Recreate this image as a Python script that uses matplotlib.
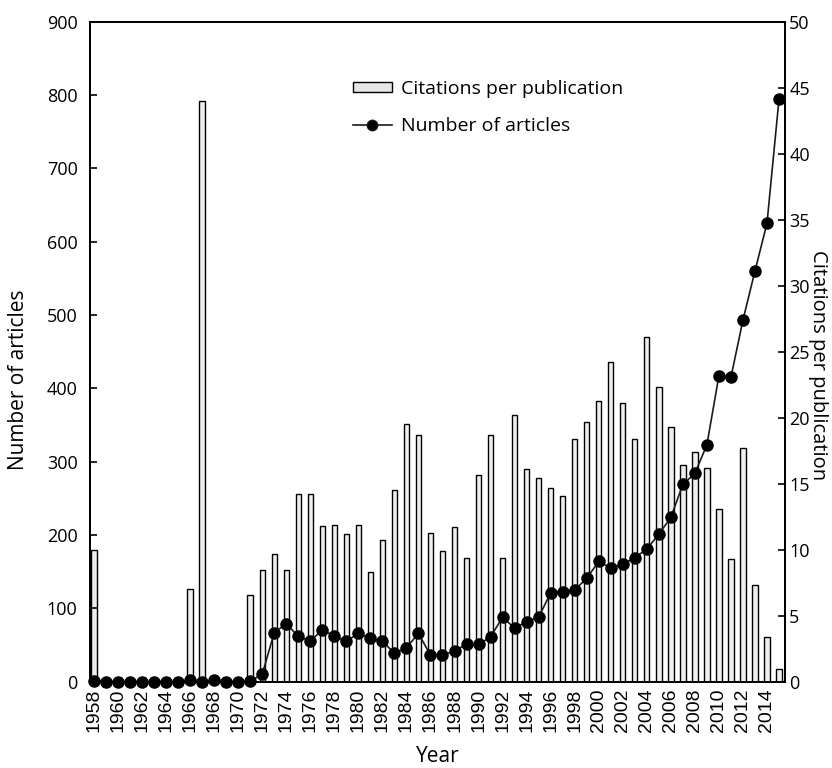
import numpy as np
import matplotlib.pyplot as plt
from matplotlib.lines import Line2D
from matplotlib.patches import Patch

# years shown on the x axis (one bar and one point per year)
years = np.arange(1958, 2016)

# citations per publication (bars, right axis)
citations = [10.0, 0, 0, 0, 0, 0, 0, 0, 7.0, 44.0,
             0, 0, 0, 6.6, 8.45, 9.7, 8.45, 14.2, 14.2, 11.8,
             11.9, 11.2, 11.9, 8.3, 10.7, 14.5, 19.5, 18.7, 11.3, 9.9,
             11.75, 9.35, 15.65, 18.7, 9.35, 20.2, 16.1, 15.4, 14.7, 14.05,
             18.4, 19.7, 21.3, 24.2, 21.1, 18.4, 26.1, 22.3, 19.3, 16.4,
             17.4, 16.2, 13.1, 9.3, 17.7, 7.3, 3.4, 0.94]

# number of articles (line, left axis)
articles = [1, 0, 0, 0, 0, 0, 0, 0, 2, 0,
            2, 0, 0, 1, 10, 67, 79, 62, 55, 71,
            62, 55, 66, 59, 55, 39, 46, 66, 36, 36,
            42, 51, 51, 61, 88, 73, 82, 88, 121, 123,
            125, 141, 164, 155, 160, 169, 181, 201, 224, 269,
            284, 323, 417, 415, 493, 560, 625, 794]

xtick_years = np.arange(1958, 2015, 2)

lab_font = 'Open Sans'
tick_font = 'Liberation Sans'

fig = plt.figure(figsize=(8.32, 7.68), dpi=100)
ax1 = fig.add_axes([90/832, 1 - 681.7/768, 695/832, 660/768])
ax2 = ax1.twinx()

# bars on the right axis
ax2.bar(years, citations, width=0.45, color='#eeeeee', edgecolor='black',
        linewidth=1.0)
ax2.set_ylim(0, 50)
ax2.set_yticks(np.arange(0, 51, 5))

# line on the left axis, drawn above the bars
ax1.set_zorder(ax2.get_zorder() + 1)
ax1.patch.set_visible(False)
ax1.plot(years, articles, color='#1a1a1a', linewidth=1.2, marker='o',
         markersize=8, markerfacecolor='black', markeredgecolor='black',
         clip_on=False)
ax1.set_ylim(0, 900)
ax1.set_yticks(np.arange(0, 901, 100))
ax1.set_xlim(1957.67, 2015.5)
ax1.set_xticks(xtick_years)
ax1.set_xticklabels([str(y) for y in xtick_years], rotation=90,
                    fontsize=14, family=tick_font)

ax1.tick_params(axis='x', length=0, pad=5)
ax1.tick_params(axis='y', direction='in', length=5, width=1.2, pad=9,
                labelsize=13)
ax2.tick_params(axis='y', direction='in', length=5, width=1.2, pad=3,
                labelsize=13)
for lab in ax1.get_yticklabels() + ax2.get_yticklabels():
    lab.set_family(lab_font)

for ax in (ax1, ax2):
    for s in ax.spines.values():
        s.set_linewidth(1.3)

ax1.set_xlabel('Year', fontsize=15, family=lab_font)
ax1.xaxis.set_label_coords(0.5, -0.097)
ax1.set_ylabel('Number of articles', fontsize=15, family=lab_font)
ax1.yaxis.set_label_coords(-0.088, 0.457)
ax2.set_ylabel('Citations per publication', fontsize=14.5, family=lab_font,
               rotation=270, va='center')
ax2.yaxis.set_label_coords(1.048, 0.48)

handles = [Patch(facecolor='#e6e6e6', edgecolor='black', linewidth=1.0),
           Line2D([], [], color='#1a1a1a', linewidth=1.2, marker='o',
                  markersize=7.5, markerfacecolor='black')]
ax1.legend(handles, ['Citations per publication', 'Number of articles'],
           loc='upper left', bbox_to_anchor=(0.378, 0.912), frameon=False,
           borderpad=0, borderaxespad=0, handlelength=2.0, handleheight=0.4,
           handletextpad=0.5, labelspacing=1.0, numpoints=1,
           prop={'family': lab_font, 'size': 14})

fig.savefig('out.png', dpi=100)
